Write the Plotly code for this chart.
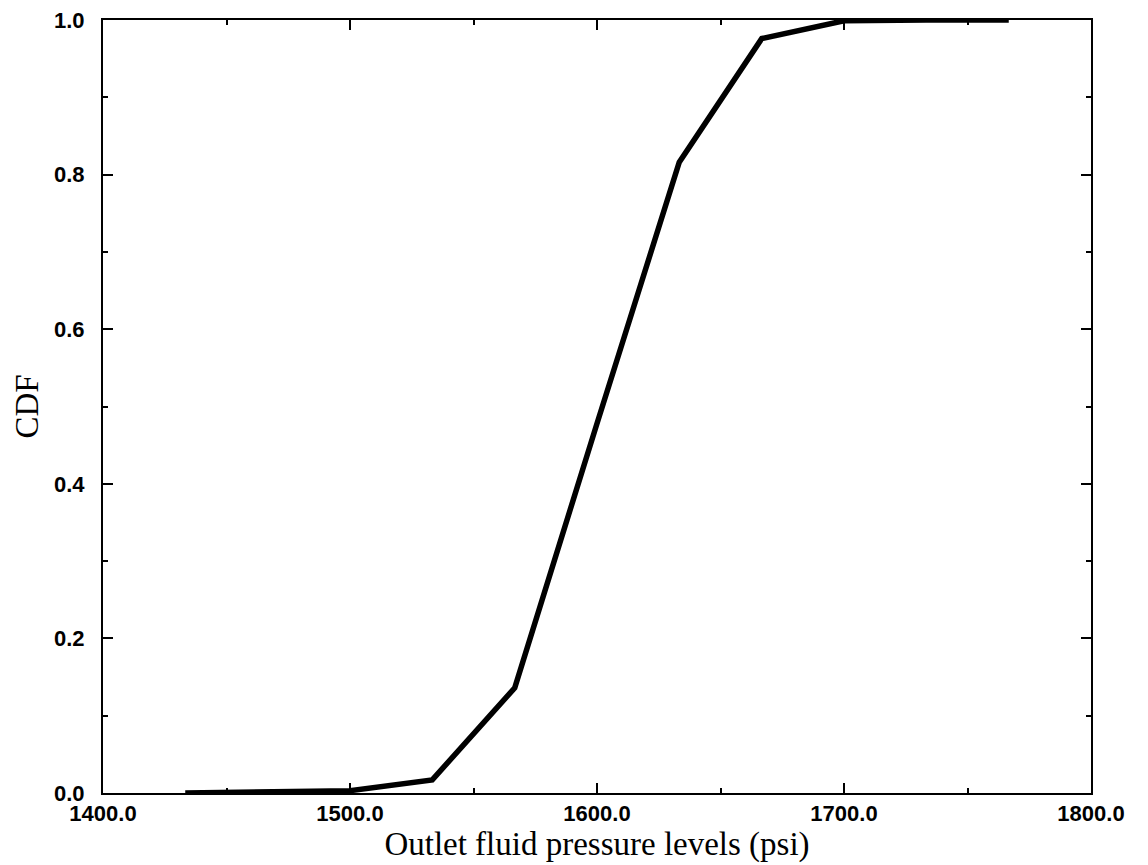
import plotly.graph_objects as go

pressure = [1433.3, 1466.7, 1500.0, 1533.3, 1566.7, 1600.0, 1633.3, 1666.7, 1700.0, 1733.3, 1766.7]
cdf = [0.0, 0.001, 0.003, 0.017, 0.136, 0.478, 0.816, 0.976, 0.999, 1.0, 1.0]

x_ticks = [1400, 1500, 1600, 1700, 1800]
x_labels = ["1400.0", "1500.0", "1600.0", "1700.0", "1800.0"]
y_ticks = [0.0, 0.2, 0.4, 0.6, 0.8, 1.0]
y_labels = ["0.0", "0.2", "0.4", "0.6", "0.8", "1.0"]

fig = go.Figure()
fig.add_trace(go.Scatter(x=pressure, y=cdf, mode="lines",
                         line=dict(color="black", width=5.5), showlegend=False))

tickfont = dict(family="Liberation Sans, Arial", size=22, color="black", weight="bold")
axis_common = dict(
    showline=True, linecolor="black", linewidth=2, mirror="ticks",
    ticks="inside", ticklen=10, tickwidth=1.5, tickcolor="black",
    showgrid=False, zeroline=False, tickfont=tickfont, automargin=False,
    ticklabeloverflow="allow",
)
title_font = dict(family="Liberation Serif, Times New Roman", size=33, color="black")

fig.update_layout(
    width=1140, height=857,
    margin=dict(l=95, r=57, t=12, b=72),
    paper_bgcolor="white", plot_bgcolor="white",
    xaxis=dict(range=[1400, 1800], tickvals=x_ticks, ticktext=x_labels,
               minor=dict(dtick=50, ticks="inside", ticklen=5, tickcolor="black", tickwidth=1.5),
               title=dict(text="Outlet fluid pressure levels (psi)", font=title_font, standoff=0),
               ticklabelstandoff=0,
               **axis_common),
    yaxis=dict(range=[0, 1.0], tickvals=y_ticks, ticktext=y_labels,
               minor=dict(dtick=0.1, ticks="inside", ticklen=5, tickcolor="black", tickwidth=1.5),
               title=dict(text="CDF", font=title_font, standoff=5),
               ticklabelstandoff=12,
               **axis_common),
)

fig.write_html("out.html")
